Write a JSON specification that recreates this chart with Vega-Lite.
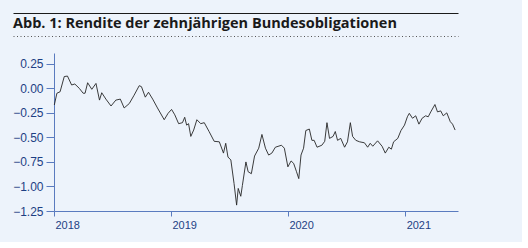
{
  "$schema": "https://vega.github.io/schema/vega-lite/v6.json",
  "background": "#edf3fb",
  "padding": {"left": 12, "top": 13, "right": 23, "bottom": 12},
  "spacing": 17,
  "center": true,
  "config": {
    "view": {"stroke": null},
    "font": "Liberation Sans",
    "axis": {"grid": false, "labelFont": "Liberation Sans", "labelColor": "#1d3f84", "domainColor": "#5a7bbf", "tickColor": "#5a7bbf", "labelFontSize": 11}
  },
  "datasets": {
    "yield": [
      {"date": "2018-01-02", "value": -0.17},
      {"date": "2018-01-10", "value": -0.05},
      {"date": "2018-01-20", "value": -0.035},
      {"date": "2018-02-02", "value": 0.12},
      {"date": "2018-02-12", "value": 0.125},
      {"date": "2018-02-25", "value": 0.034},
      {"date": "2018-03-07", "value": 0.044},
      {"date": "2018-03-21", "value": 0.0},
      {"date": "2018-04-02", "value": -0.05},
      {"date": "2018-04-08", "value": -0.05},
      {"date": "2018-04-16", "value": 0.057},
      {"date": "2018-04-29", "value": -0.01},
      {"date": "2018-05-12", "value": 0.05},
      {"date": "2018-05-23", "value": -0.12},
      {"date": "2018-05-30", "value": -0.045},
      {"date": "2018-06-12", "value": -0.11},
      {"date": "2018-06-28", "value": -0.18},
      {"date": "2018-07-13", "value": -0.12},
      {"date": "2018-07-27", "value": -0.11},
      {"date": "2018-08-08", "value": -0.2},
      {"date": "2018-08-24", "value": -0.155},
      {"date": "2018-09-08", "value": -0.07},
      {"date": "2018-09-24", "value": 0.027},
      {"date": "2018-10-01", "value": 0.017},
      {"date": "2018-10-13", "value": -0.09},
      {"date": "2018-10-23", "value": -0.04},
      {"date": "2018-11-05", "value": -0.11},
      {"date": "2018-11-20", "value": -0.2},
      {"date": "2018-12-11", "value": -0.32},
      {"date": "2018-12-23", "value": -0.255},
      {"date": "2019-01-03", "value": -0.215},
      {"date": "2019-01-13", "value": -0.27},
      {"date": "2019-01-25", "value": -0.36},
      {"date": "2019-02-06", "value": -0.35},
      {"date": "2019-02-13", "value": -0.295},
      {"date": "2019-02-19", "value": -0.375},
      {"date": "2019-02-25", "value": -0.36},
      {"date": "2019-03-04", "value": -0.49},
      {"date": "2019-03-13", "value": -0.425},
      {"date": "2019-03-23", "value": -0.32},
      {"date": "2019-04-04", "value": -0.36},
      {"date": "2019-04-15", "value": -0.35},
      {"date": "2019-04-30", "value": -0.44},
      {"date": "2019-05-16", "value": -0.54},
      {"date": "2019-06-01", "value": -0.545},
      {"date": "2019-06-14", "value": -0.66},
      {"date": "2019-06-21", "value": -0.56},
      {"date": "2019-06-28", "value": -0.7},
      {"date": "2019-07-07", "value": -0.73},
      {"date": "2019-07-17", "value": -0.97},
      {"date": "2019-07-25", "value": -1.19},
      {"date": "2019-07-30", "value": -1.02},
      {"date": "2019-08-07", "value": -1.1},
      {"date": "2019-08-12", "value": -0.99},
      {"date": "2019-08-23", "value": -0.75},
      {"date": "2019-08-30", "value": -0.85},
      {"date": "2019-09-09", "value": -0.87},
      {"date": "2019-09-19", "value": -0.69},
      {"date": "2019-10-02", "value": -0.61},
      {"date": "2019-10-12", "value": -0.47},
      {"date": "2019-10-23", "value": -0.61},
      {"date": "2019-11-02", "value": -0.68},
      {"date": "2019-11-12", "value": -0.66},
      {"date": "2019-11-23", "value": -0.6},
      {"date": "2019-12-12", "value": -0.58},
      {"date": "2019-12-21", "value": -0.61},
      {"date": "2020-01-01", "value": -0.8},
      {"date": "2020-01-11", "value": -0.74},
      {"date": "2020-01-19", "value": -0.765},
      {"date": "2020-01-28", "value": -0.85},
      {"date": "2020-02-04", "value": -0.92},
      {"date": "2020-02-11", "value": -0.68},
      {"date": "2020-02-19", "value": -0.61},
      {"date": "2020-02-26", "value": -0.43},
      {"date": "2020-03-08", "value": -0.415},
      {"date": "2020-03-16", "value": -0.53},
      {"date": "2020-03-23", "value": -0.53},
      {"date": "2020-04-01", "value": -0.6},
      {"date": "2020-04-16", "value": -0.58},
      {"date": "2020-04-25", "value": -0.54},
      {"date": "2020-05-02", "value": -0.35},
      {"date": "2020-05-10", "value": -0.51},
      {"date": "2020-05-21", "value": -0.49},
      {"date": "2020-05-28", "value": -0.44},
      {"date": "2020-06-04", "value": -0.53},
      {"date": "2020-06-14", "value": -0.51},
      {"date": "2020-06-26", "value": -0.6},
      {"date": "2020-07-05", "value": -0.545},
      {"date": "2020-07-14", "value": -0.35},
      {"date": "2020-07-21", "value": -0.49},
      {"date": "2020-07-31", "value": -0.53},
      {"date": "2020-08-12", "value": -0.545},
      {"date": "2020-08-27", "value": -0.555},
      {"date": "2020-09-06", "value": -0.6},
      {"date": "2020-09-14", "value": -0.56},
      {"date": "2020-09-22", "value": -0.59},
      {"date": "2020-10-07", "value": -0.535},
      {"date": "2020-10-21", "value": -0.59},
      {"date": "2020-10-31", "value": -0.66},
      {"date": "2020-11-11", "value": -0.6},
      {"date": "2020-11-19", "value": -0.62},
      {"date": "2020-11-26", "value": -0.545},
      {"date": "2020-12-09", "value": -0.51},
      {"date": "2020-12-19", "value": -0.43},
      {"date": "2020-12-30", "value": -0.375},
      {"date": "2021-01-08", "value": -0.29},
      {"date": "2021-01-14", "value": -0.255},
      {"date": "2021-01-24", "value": -0.305},
      {"date": "2021-02-03", "value": -0.28},
      {"date": "2021-02-13", "value": -0.365},
      {"date": "2021-02-23", "value": -0.305},
      {"date": "2021-03-06", "value": -0.28},
      {"date": "2021-03-14", "value": -0.29},
      {"date": "2021-03-22", "value": -0.24},
      {"date": "2021-04-04", "value": -0.165},
      {"date": "2021-04-12", "value": -0.24},
      {"date": "2021-04-22", "value": -0.23},
      {"date": "2021-04-30", "value": -0.28},
      {"date": "2021-05-11", "value": -0.25},
      {"date": "2021-05-22", "value": -0.34},
      {"date": "2021-05-29", "value": -0.365},
      {"date": "2021-06-06", "value": -0.425}
    ],
    "header": [
      {"pos": 0, "label": "Abb. 1: Rendite der zehnjährigen Bundesobligationen"}
    ]
  },
  "vconcat": [
    {
      "spacing": 0,
      "vconcat": [
        {
          "width": 445,
          "height": 22,
          "data": {"name": "header"},
          "mark": {"type": "text", "align": "left", "baseline": "alphabetic", "dy": 4, "font": "Open Sans", "fontWeight": "bold", "fontSize": 14.5, "color": "#1a1a1a"},
          "encoding": {
            "x": {"field": "pos", "type": "quantitative", "scale": {"domain": [0, 1]},
                  "axis": {"orient": "top", "title": null, "labels": false, "ticks": false, "domainColor": "#1a1a1a", "domainWidth": 1.2}},
            "y": {"field": "pos", "type": "quantitative", "scale": {"domain": [-1, 1]},
                  "axis": {"orient": "right", "title": null, "labels": false, "ticks": false, "domain": false, "minExtent": 41}},
            "text": {"field": "label"}
          }
        },
        {
          "width": 445,
          "height": 1,
          "data": {"name": "header"},
          "mark": {"type": "tick", "opacity": 0},
          "encoding": {
            "x": {"field": "pos", "type": "quantitative", "scale": {"domain": [0, 1]},
                  "axis": {"orient": "bottom", "title": null, "labels": false, "ticks": false, "domainColor": "#555555", "domainDash": [1, 2.5], "domainWidth": 1}}
          }
        }
      ]
    },
    {
      "width": 404,
      "height": 158,
      "data": {"name": "yield"},
      "mark": {"type": "line", "color": "#262626", "strokeWidth": 0.9},
      "encoding": {
        "x": {"field": "date", "type": "temporal",
              "scale": {"domain": [{"year": 2018, "month": 1, "date": 1}, {"year": 2021, "month": 6, "date": 15}]},
              "axis": {"title": null, "format": "%Y", "tickCount": {"interval": "year", "step": 1}, "labelAlign": "left", "labelOffset": 1, "tickSize": 5, "labelPadding": 3, "labelFontSize": 11}},
        "y": {"field": "value", "type": "quantitative",
              "scale": {"domain": [-1.25, 0.36], "nice": false, "zero": false},
              "axis": {"title": null, "values": [-1.25, -1, -0.75, -0.5, -0.25, 0, 0.25], "format": ".2f", "tickSize": 8, "labelPadding": 3, "minExtent": 41, "labelFontSize": 12}}
      }
    }
  ]
}
